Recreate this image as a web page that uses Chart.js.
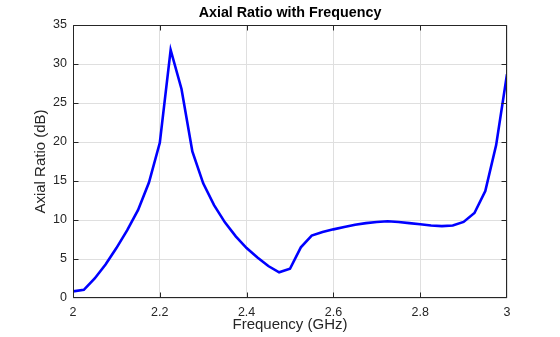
<!DOCTYPE html>
<html>
<head>
<meta charset="utf-8">
<title>Axial Ratio with Frequency</title>
<script src="https://cdn.jsdelivr.net/npm/chart.js@4/dist/chart.umd.min.js"></script>
<style>
  html, body { margin: 0; padding: 0; background: #ffffff; }
  canvas { display: block; }
</style>
</head>
<body>
<canvas id="arChart" width="560" height="337"></canvas>
<script>
// Frequency samples (GHz)
const frequency = [
  2.000, 2.025, 2.050, 2.075, 2.100, 2.125, 2.150, 2.175, 2.200, 2.225,
  2.250, 2.275, 2.300, 2.325, 2.350, 2.375, 2.400, 2.425, 2.450, 2.475,
  2.500, 2.525, 2.550, 2.575, 2.600, 2.625, 2.650, 2.675, 2.700, 2.725,
  2.750, 2.775, 2.800, 2.825, 2.850, 2.875, 2.900, 2.925, 2.950, 2.975,
  3.000
];

// Axial ratio at each frequency (dB)
const axialRatio = [
  0.85, 1.05, 2.5, 4.3, 6.4, 8.7, 11.3, 14.8, 19.9, 31.8,
  26.8, 18.8, 14.7, 11.9, 9.7, 7.9, 6.4, 5.2, 4.1, 3.3,
  3.75, 6.5, 8.0, 8.45, 8.8, 9.1, 9.4, 9.6, 9.75, 9.83,
  9.75, 9.6, 9.45, 9.3, 9.22, 9.3, 9.75, 10.9, 13.7, 19.6,
  28.7
];

// Axis ticks and their labels
const xTicks = [2, 2.2, 2.4, 2.6, 2.8, 3];
const xTickLabels = ['2', '2.2', '2.4', '2.6', '2.8', '3'];
const yTicks = [0, 5, 10, 15, 20, 25, 30, 35];
const yTickLabels = ['0', '5', '10', '15', '20', '25', '30', '35'];

const axisColor = '#262626';
const gridColor = '#dfdfdf';
const fontFamily = 'Arial, "Liberation Sans", Helvetica, sans-serif';

// Box around the plot area with inward-pointing tick marks on all sides
const boxPlugin = {
  id: 'axesBox',
  afterDraw(chart) {
    const { ctx, chartArea: a, scales } = chart;
    const L = Math.round(a.left) + 0.5, R = Math.round(a.right) - 0.5;
    const T = Math.round(a.top) + 0.5, B = Math.round(a.bottom) - 0.5;
    const clamp = (v, lo, hi) => Math.min(Math.max(v, lo), hi);
    const len = 5;
    ctx.save();
    ctx.strokeStyle = axisColor;
    ctx.lineWidth = 1;
    ctx.beginPath();
    ctx.rect(L, T, R - L, B - T);
    scales.x.ticks.forEach(t => {
      const px = clamp(Math.round(scales.x.getPixelForValue(t.value)) + 0.5, L, R);
      ctx.moveTo(px, B); ctx.lineTo(px, B - len);
      ctx.moveTo(px, T); ctx.lineTo(px, T + len);
    });
    scales.y.ticks.forEach(t => {
      const py = clamp(Math.round(scales.y.getPixelForValue(t.value)) + 0.5, T, B);
      ctx.moveTo(L, py); ctx.lineTo(L + len, py);
      ctx.moveTo(R, py); ctx.lineTo(R - len, py);
    });
    ctx.stroke();
    ctx.restore();
  }
};

new Chart(document.getElementById('arChart'), {
  type: 'line',
  data: {
    datasets: [{
      label: 'Axial Ratio',
      data: frequency.map((f, i) => ({ x: f, y: axialRatio[i] })),
      borderColor: '#0000ff',
      borderWidth: 2.6,
      pointRadius: 0,
      tension: 0,
      fill: false
    }]
  },
  options: {
    responsive: false,
    animation: false,
    devicePixelRatio: 1,
    layout: { padding: { top: 0, right: 53, bottom: 0, left: 0 } },
    plugins: {
      legend: { display: false },
      tooltip: { enabled: false },
      title: {
        display: true,
        fullSize: false,
        text: 'Axial Ratio with Frequency',
        color: '#000000',
        font: { family: fontFamily, size: 14.3, weight: 'bold', lineHeight: 1.2 },
        padding: { top: 4, bottom: 3.84 }
      }
    },
    scales: {
      x: {
        type: 'linear',
        min: 2,
        max: 3,
        afterBuildTicks(scale) { scale.ticks = xTicks.map(v => ({ value: v })); },
        afterFit(scale) { scale.height = 39; },
        ticks: {
          color: axisColor,
          font: { family: fontFamily, size: 12.5 },
          padding: 7,
          maxRotation: 0,
          callback: (v) => xTickLabels[xTicks.indexOf(v)] ?? ''
        },
        grid: { color: gridColor, lineWidth: 1, drawTicks: false },
        border: { display: false },
        title: {
          display: true,
          text: 'Frequency (GHz)',
          color: axisColor,
          font: { family: fontFamily, size: 15, lineHeight: 1.2 },
          padding: { top: 0, bottom: 3 }
        }
      },
      y: {
        type: 'linear',
        min: 0,
        max: 35,
        afterBuildTicks(scale) { scale.ticks = yTicks.map(v => ({ value: v })); },
        afterFit(scale) { scale.width = 73; },
        ticks: {
          color: axisColor,
          font: { family: fontFamily, size: 12.5 },
          padding: 6,
          callback: (v) => yTickLabels[yTicks.indexOf(v)] ?? ''
        },
        grid: { color: gridColor, lineWidth: 1, drawTicks: false },
        border: { display: false },
        title: {
          display: true,
          text: 'Axial Ratio (dB)',
          color: axisColor,
          font: { family: fontFamily, size: 15, lineHeight: 1.2 },
          padding: { top: 32, bottom: 0 }
        }
      }
    }
  },
  plugins: [boxPlugin]
});
</script>
</body>
</html>
